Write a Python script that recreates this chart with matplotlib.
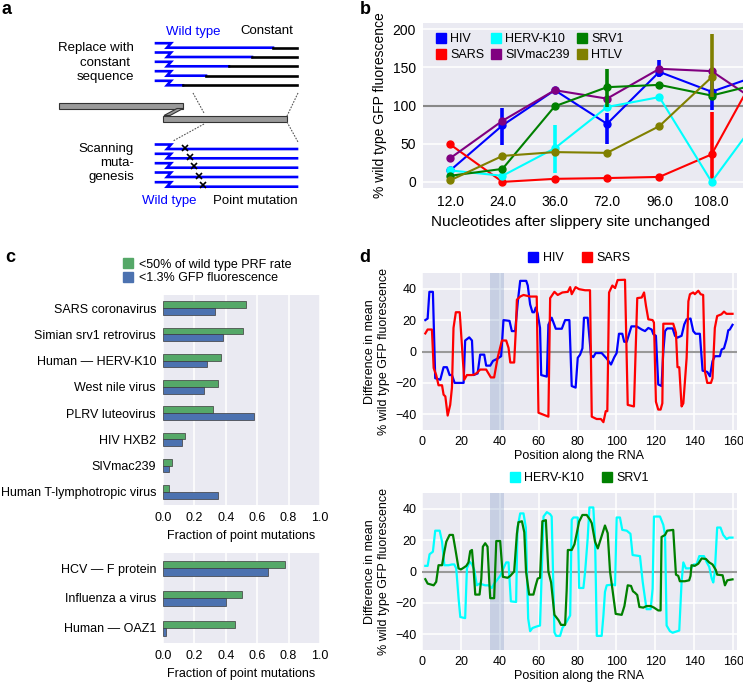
import numpy as np
import matplotlib
matplotlib.use('Agg')
import matplotlib.pyplot as plt
from matplotlib.lines import Line2D
from matplotlib.patches import Rectangle, Polygon

plt.rcParams['font.family'] = ['Liberation Sans', 'DejaVu Sans']
plt.rcParams['font.size'] = 9

# ---------------- panel b data ----------------
nt_after_slip = ['12.0', '24.0', '36.0', '72.0', '96.0', '108.0', '120.0']
b_hiv = [15, 74, 120, 76, 144, 118, 142]
b_sars = [49, 0, 4, 5, 6.5, 36, 160]
b_herv = [15, 8, 44, 98, 111, 0, 93]
b_srv1 = [8, 17, 99, 124, 127, 113, 130]
b_siv = [31, 80, 120, 109, 148, 145, 99]
b_htlv = [2, 34, 39, 38, 73, 137, np.nan]
nan = np.nan
b_hiv_err = [(nan, nan), (48, 97), (nan, nan), (50, 90), (137, 160), (94, 133), (nan, nan)]
b_sars_err = [(nan, nan)] * 5 + [(0, 92), (nan, nan)]
b_herv_err = [(nan, nan), (nan, nan), (11, 74)] + [(nan, nan)] * 4
b_srv1_err = [(nan, nan)] * 3 + [(98, 148)] + [(nan, nan)] * 3
b_siv_err = [(nan, nan)] * 7
b_htlv_err = [(nan, nan)] * 5 + [(111, 194), (nan, nan)]

# ---------------- panel c data ----------------
c_top_names = ['SARS coronavirus', 'Simian srv1 retrovirus', 'Human \u2014 HERV-K10',
               'West nile virus', 'PLRV luteovirus', 'HIV HXB2', 'SIVmac239',
               'Human T-lymphotropic virus']
c_top_prf = [0.53, 0.51, 0.37, 0.35, 0.32, 0.14, 0.06, 0.036]
c_top_gfp = [0.33, 0.38, 0.28, 0.26, 0.58, 0.12, 0.04, 0.35]
c_bot_names = ['HCV \u2014 F protein', 'Influenza a virus', 'Human \u2014 OAZ1']
c_bot_prf = [0.78, 0.50, 0.46]
c_bot_gfp = [0.67, 0.40, 0.02]

# ---------------- panel d data (position, value) ----------------
hiv_pos = [1.7, 2.9, 3.8, 5.6, 6.8, 9.4, 11.1, 12.8, 14.2, 15.4, 16.8, 21.4, 22.2, 24.3,
           25.7, 26.5, 28.6, 29.9, 32.0, 33.0, 35.1, 36.5, 38.9, 40.7, 41.9, 45.0, 46.2,
           47.9, 49.3, 50.5, 53.6, 54.4, 55.6, 56.8, 57.7, 58.5, 59.5, 60.7, 61.3, 64.2,
           65.0, 66.7, 68.8, 71.9, 73.6, 75.8, 77.0, 79.0, 80.1, 81.3, 82.5, 83.3, 85.2,
           86.9, 88.1, 89.3, 92.4, 95.0, 97.2, 98.9, 100.1, 101.3, 103.0, 104.0, 105.3,
           107.7, 110.4, 113.0, 114.7, 116.4, 118.1, 119.0, 120.3, 121.5, 123.2, 124.1,
           125.0, 126.1, 128.9, 130.1, 131.3, 133.5, 134.9, 136.1, 138.1, 139.5, 140.7,
           142.9, 144.3, 146.7, 148.1, 149.4, 150.6, 153.2, 154.1, 155.3, 156.6, 157.5,
           158.3, 159.7]
hiv_val = [20, 21, 38, 38, -17, -18, -10, -10, -15, -15, -20, -20, 7, 9,
           7, -15, -14, -2, -2, -9, -9, -6, -4.5, -3, 20, 19.5, 13,
           13, 32, 45, 45, 42, 30, 25, 25, 28, 24, 15, -15, -16,
           17, 21.5, 14.5, 14.5, 20, 20, -22, -23, -4, -2, 2, 21.5, 21.5,
           -2.4, -3.6, -1, -1, -4.5, -8.3, -3.6, -1, 11.3, 11.3, 6.2, 6.2,
           16, 16, 14, 13, 15, 14, 11, 10, -21, -22, 0,
           13, 14.7, 14.7, 10, 8.8, 10, 17.3, 20.5, 21, 13, 11.3,
           11.3, -12.2, -13, -15.8, -6.2, -3, -3, 1.3, 2, 7.7, 13.5,
           14, 17]

sars_pos = [1.7, 2.9, 5.1, 6.0, 7.3, 8.5, 10.3, 11.1, 12.0, 13.2, 14.5, 15.4, 16.2, 17.4,
            19.4, 20.5, 21.7, 23.1, 25.7, 26.9, 28.2, 29.9, 33.0, 34.2, 35.4, 37.1, 38.9,
            41.1, 43.3, 44.5, 45.4, 47.4, 48.3, 48.8, 50.5, 52.2, 55.6, 59.0, 59.9, 65.0,
            65.9, 68.1, 69.8, 72.2, 75.0, 76.2, 77.0, 79.0, 80.8, 83.9, 86.4, 87.3, 89.8,
            92.0, 93.3, 94.5, 95.3, 96.2, 97.9, 99.3, 100.6, 104.4, 105.8, 109.0, 110.7,
            113.0, 114.2, 115.2, 116.4, 118.6, 119.3, 120.3, 121.5, 122.7, 123.6, 124.1,
            129.2, 130.6, 131.4, 132.3, 133.5, 134.4, 136.1, 137.0, 137.8, 139.5, 140.3,
            142.1, 143.3, 144.6, 145.5, 146.7, 148.6, 149.4, 150.6, 151.8, 154.0, 155.3,
            156.6, 159.7]
sars_val = [11.5, 14, 14, -10.5, -15, -21.5, -21.5, -27.5, -28.6, -40.8, -34, -23, 15, 25,
            25, 4.5, -18, -15, -15, -14.7, -13.7, -11.5, -11.5, -14, -16.5, -16.5, -4,
            7, 7, 2.3, -7, -7, 15, 33, 35, 36, 35, 35, -39, -41.5,
            34, 38, 36, 37.6, 38, 41, 36.5, 41, 39.7, 39, 39, -41.5, -43,
            -43, -45, -38, -38, 37.6, 42, 40.4, 45.5, 45.7, -34, -35, 34,
            34.4, 37.6, 29, 20.5, 20, 18.4, -32, -37, -37, -33, 17.7,
            17.7, 12, -10, -10, -35, -33, -4, 32, 36.5, 37.6, 36.5,
            38.7, 36.5, 36, -12.6, -20, -20, -17, 15, 22.6, 23.7, 25.4,
            24, 24]

herv_pos = [1.7, 2.9, 3.9, 5.6, 6.8, 9.1, 10.3, 11.5, 13.7, 15.4, 16.6, 17.6, 18.8, 19.7,
            22.2, 23.1, 24.5, 25.7, 26.9, 28.2, 29.6, 32.5, 34.2, 35.9, 37.1, 38.5, 40.2,
            41.9, 43.3, 44.5, 45.7, 48.4, 49.1, 50.5, 52.2, 53.4, 54.6, 55.6, 56.8, 59.0,
            60.7, 62.5, 64.2, 65.9, 66.7, 68.1, 69.0, 71.0, 72.2, 74.4, 76.2, 77.0, 77.9,
            80.1, 80.8, 83.0, 83.9, 85.2, 86.1, 88.1, 89.0, 89.9, 92.4, 93.3, 94.1, 95.0,
            98.4, 99.3, 100.1, 101.8, 103.0, 105.3, 107.2, 108.3, 112.1, 113.5, 114.7,
            115.5, 117.6, 118.6, 119.3, 122.4, 124.1, 125.0, 125.8, 127.5, 128.9, 132.3,
            133.5, 134.4, 135.7, 137.4, 138.6, 139.8, 141.2, 142.6, 145.0, 146.3, 147.7,
            149.0, 149.8, 150.6, 151.8, 153.5, 154.9, 156.6, 158.0, 159.7]
herv_val = [3.6, 3.6, 11, 12.6, 26, 26, 19, 4, 4, 4.5, 4.5, 2, -17, -29,
            -29.7, 2, 6.2, 4.5, 1, -8.8, -7.7, -8.8, -8.8, -10.5, -7.7, -5.6, -2.8,
            2, 5.8, 5.8, -19, -19.4, 27.6, 37, 37, 28, -30, -38, -36, -35,
            -34.4, 35, 37.8, 36.5, 35, -38.7, -41, -41, -36, -32, -28, 33, 34.4,
            34.4, -10.5, -10.5, 0, 21, 40.8, 40.8, 21, -41, -41, -28, -13, -8.8,
            -8.3, -8.8, 34.4, 34.4, 26.5, 26, 24, 10.5, 9.8, -6.6, -17.3,
            -24, -24, -11, 35, 35, 29.7, 23.3, -34.4, -38, -39, -37.6,
            -6.6, 5.8, 2, 2, 2.4, 4.5, 4.5, 9.8, 9.8, 6.2, 3,
            -4.5, -7, 0, 28, 28, 23.3, 20.7, 21.6, 21.6]

srv1_pos = [1.7, 2.9, 6.0, 7.3, 8.5, 10.3, 11.5, 12.5, 14.2, 15.9, 17.1, 18.8, 20.0, 21.4,
            22.8, 23.9, 24.8, 25.7, 26.5, 27.4, 29.6, 30.5, 31.3, 32.5, 33.7, 34.6, 35.1,
            37.1, 38.2, 40.2, 41.6, 44.0, 45.4, 47.4, 48.8, 49.6, 51.4, 52.6, 53.5, 55.1,
            57.3, 58.5, 59.5, 60.7, 61.9, 63.7, 65.0, 66.4, 68.1, 70.2, 71.5, 73.6, 74.4,
            75.0, 77.0, 78.4, 79.6, 80.8, 82.5, 84.7, 86.4, 87.3, 89.0, 90.4, 92.0, 94.1,
            95.5, 96.7, 97.9, 99.6, 102.7, 104.1, 105.8, 107.5, 108.5, 109.5, 110.7, 111.8,
            113.8, 115.5, 117.6, 119.3, 121.5, 122.7, 123.2, 125.0, 126.1, 129.2, 130.6,
            131.8, 132.6, 135.2, 137.4, 138.1, 138.6, 140.3, 142.1, 143.8, 146.0, 147.7,
            149.4, 151.1, 151.8, 154.6, 155.8, 157.0, 159.7]
srv1_val = [-4.9, -7.7, -8.8, -6.6, 4, 4, 12.6, 19, 23.3, 23.3, 14.7, 2, 1.3, 2.4,
            3.6, 5.8, 13, 13.7, 2, -14.7, -14.7, -4.5, 15.8, 18, 15.8, -6.6, -17,
            -17, 19.4, 19.4, -3.4, -4, -2.8, 0, 24, 31.4, 32, 25, 0, -14.7,
            -14.7, -8.8, -4.5, -4, 32, 32.7, 0, -7, -27.6, -31, -34, -34, -12,
            13.7, 13.7, 17.3, 24.4, 31.8, 36, 36, 33, 30.8, 19, 14.7, 21, 29.3,
            24.4, 0, -11, -27, -27.6, -22, -8.8, -9.2, -12.6, -13.5, -15, -22.6,
            -23, -22, -22, -23, -24.8, -24.8, 22, 23.3, 26, 26.5, -2,
            -2.8, -6.2, -6.2, -5.6, -2.8, 4, 3.6, 5, 8.3, 8, 5.8,
            4.5, 1, -2, -2.4, -8.8, -5.6, -5]

W, H = 743, 684
BG = '#EAEAF2'
HIV_C, SARS_C, HERV_C = '#0000FF', '#FF0000', '#00FFFF'
SRV1_C, SIV_C, HTLV_C = '#008000', '#800080', '#808000'
GREEN, BLUE = '#55A868', '#4C72B0'


def rect(l, t, r, b):
    return [l / W, 1 - b / H, (r - l) / W, (b - t) / H]


def style_ax(ax, xgrid=True, ygrid=True, pad=4, size=9):
    ax.set_facecolor(BG)
    for s in ax.spines.values():
        s.set_visible(False)
    ax.tick_params(length=0, labelsize=size, pad=pad)
    ax.set_axisbelow(True)
    if xgrid:
        ax.xaxis.grid(True, color='white', lw=1.1)
    if ygrid:
        ax.yaxis.grid(True, color='white', lw=1.1)


def square(color, label):
    return Line2D([], [], marker='s', ls='none', color=color, ms=6.5, label=label)


fig = plt.figure(figsize=(W / 100, H / 100), dpi=100)

# ---------------- panel a: schematic ----------------
ax_a = fig.add_axes(rect(0, 0, 335, 215))
ax_a.set_xlim(0, 335)
ax_a.set_ylim(215, 0)
ax_a.axis('off')

wt_end = [273, 252, 229, 206, 183]     # where the wild type part stops
top_rows = [47.7, 57, 66.3, 75.7, 85.3]
bot_rows = [149, 158.3, 167.7, 177, 186.7]
mut_x = [185, 190, 194.3, 198.7, 202.7]
x_end = 297

for y, xs in zip(top_rows, wt_end):
    ax_a.plot([156, 171, 167, xs], [y - 4.5, y - 4.5, y, y], color='blue', lw=1.9,
              solid_joinstyle='miter')
    ax_a.plot([xs, x_end], [y, y], color='black', lw=1.9)
for y, xm in zip(bot_rows, mut_x):
    ax_a.plot([156, 171, 167, x_end], [y - 4.5, y - 4.5, y, y], color='blue', lw=1.9,
              solid_joinstyle='miter')
    ax_a.plot(xm, y - 1.5, marker='x', color='black', ms=5, mew=1.2)

grey_kw = dict(facecolor='#9a9a9a', edgecolor='#333333', lw=0.8)
ax_a.add_patch(Rectangle((59, 102.5), 124, 6, **grey_kw))
ax_a.add_patch(Rectangle((163, 115.5), 124, 6, **grey_kw))
ax_a.add_patch(Polygon([(177, 108.5), (183, 108.5), (170, 115.5), (164, 115.5)], **grey_kw))

dot_kw = dict(color='#555555', lw=0.8, ls=(0, (1.5, 1.2)))
ax_a.plot([193, 204], [93, 113], **dot_kw)
ax_a.plot([204, 173], [124, 141], **dot_kw)
ax_a.plot([298, 287], [93, 116], **dot_kw)
ax_a.plot([287, 298], [122, 142], **dot_kw)

ax_a.text(166, 31.5, 'Wild type', color='blue', fontsize=9.5, va='center')
ax_a.text(240, 31.5, 'Constant', color='black', fontsize=9.5, va='center')
ax_a.text(134, 62.5, 'Replace with\nconstant \nsequence', ha='right', va='center',
          multialignment='right', fontsize=9.5, linespacing=1.25)
ax_a.text(134, 163, 'Scanning\nmuta-\ngenesis', ha='right', va='center',
          multialignment='right', fontsize=9.5, linespacing=1.25)
ax_a.text(142, 201, 'Wild type', color='blue', fontsize=9.5, va='center')
ax_a.text(213, 201, 'Point mutation', color='black', fontsize=9.5, va='center')

# panel letters
for lab, (px, py) in zip('abcd', [(7, 9), (365, 9), (10, 257), (365, 257)]):
    fig.text(px / W, 1 - py / H, lab, fontsize=13, fontweight='bold', ha='center', va='center')

# ---------------- panel b ----------------
ax_b = fig.add_axes(rect(423, 23, 743, 188))
style_ax(ax_b, xgrid=False, ygrid=True, pad=5, size=10)
xb = np.arange(len(nt_after_slip))
b_series = [('HIV', b_hiv, b_hiv_err, HIV_C), ('SARS', b_sars, b_sars_err, SARS_C),
            ('HERV-K10', b_herv, b_herv_err, HERV_C), ('SIVmac239', b_siv, b_siv_err, SIV_C),
            ('SRV1', b_srv1, b_srv1_err, SRV1_C), ('HTLV', b_htlv, b_htlv_err, HTLV_C)]
ax_b.axhline(100, color='#888888', lw=1.5, zorder=1.5)
for name, vals, err, col in b_series:
    ax_b.plot(xb, vals, color=col, lw=1.5, marker='o', ms=5, zorder=3)
    lo = np.array([e[0] for e in err], dtype=float)
    hi = np.array([e[1] for e in err], dtype=float)
    ok = np.isfinite(lo)
    ax_b.vlines(xb[ok], lo[ok], hi[ok], color=col, lw=2.6, zorder=3)
ax_b.set_xticks(xb, nt_after_slip)
ax_b.set_xlim(-0.52, 5.6)
ax_b.set_ylim(-8, 208)
ax_b.set_yticks([0, 50, 100, 150, 200])
ax_b.set_xlabel('Nucleotides after slippery site unchanged', fontsize=11)
ax_b.xaxis.set_label_coords(0.46, -0.165)
ax_b.set_ylabel('% wild type GFP fluorescence', fontsize=10, labelpad=4)
ax_b.legend(handles=[square(c, n) for n, _, _, c in b_series], ncol=3,
            loc='upper left', bbox_to_anchor=(0.01, 1.0), frameon=False, fontsize=9,
            handlelength=0.7, handletextpad=0.4, columnspacing=0.6, labelspacing=0.35,
            borderpad=0.3)

# ---------------- panel c ----------------
def c_bars(ax, names, prf, gfp, h):
    y = np.arange(len(names))
    ax.barh(y - h / 2, prf, height=h, color=GREEN, edgecolor='#3a3a3a', lw=0.5)
    ax.barh(y + h / 2, gfp, height=h, color=BLUE, edgecolor='#3a3a3a', lw=0.5)
    ax.set_yticks(y, names)
    ax.set_ylim(len(names) - 0.5, -0.5)
    ax.set_xlim(0, 1)
    ax.set_xticks(np.arange(0, 1.01, 0.2), ['0.0', '0.2', '0.4', '0.6', '0.8', '1.0'])
    ax.set_xlabel('Fraction of point mutations', fontsize=9, labelpad=4)


ax_c1 = fig.add_axes(rect(163, 295, 320, 505))
style_ax(ax_c1, xgrid=True, ygrid=False, pad=5)
c_bars(ax_c1, c_top_names, c_top_prf, c_top_gfp, 0.26)
ax_c2 = fig.add_axes(rect(163, 553, 320, 643))
style_ax(ax_c2, xgrid=True, ygrid=False, pad=5)
c_bars(ax_c2, c_bot_names, c_bot_prf, c_bot_gfp, 0.25)
fig.legend(handles=[square(GREEN, '<50% of wild type PRF rate'),
                    square(BLUE, '<1.3% GFP fluorescence')],
           loc='center left', bbox_to_anchor=(123 / W, 1 - 271.5 / H), frameon=False,
           fontsize=9, handlelength=0.8, handletextpad=0.5, labelspacing=0.15,
           borderpad=0, borderaxespad=0)

# ---------------- panel d ----------------
def d_panel(ax, series):
    style_ax(ax, pad=4)
    ax.axvspan(35, 42, color=BLUE, alpha=0.22, lw=0, zorder=1)
    ax.axhline(0, color='#999999', lw=1.5, zorder=1.5)
    for pos, val, col, name in series:
        ax.plot(pos, val, color=col, lw=1.6, zorder=3)
    ax.set_xlim(0, 162)
    ax.set_ylim(-50, 50)
    ax.set_xticks(range(0, 161, 20))
    ax.set_yticks(range(-40, 41, 20))
    ax.set_xlabel('Position along the RNA', fontsize=9, labelpad=2)
    ax.set_ylabel('Difference in mean\n% wild type GFP fluorescence', fontsize=9, labelpad=4)
    ax.legend(handles=[square(c, n) for _, _, c, n in series], ncol=2,
              loc='lower center', bbox_to_anchor=(0.5, 1.0), frameon=False, fontsize=9,
              handlelength=0.7, handletextpad=0.4, columnspacing=1.5, borderpad=0.2)


ax_d1 = fig.add_axes(rect(422, 273, 737, 430))
d_panel(ax_d1, [(hiv_pos, hiv_val, HIV_C, 'HIV'), (sars_pos, sars_val, SARS_C, 'SARS')])
ax_d2 = fig.add_axes(rect(422, 493, 737, 650))
d_panel(ax_d2, [(herv_pos, herv_val, HERV_C, 'HERV-K10'), (srv1_pos, srv1_val, SRV1_C, 'SRV1')])

fig.savefig('out.png', dpi=100)
